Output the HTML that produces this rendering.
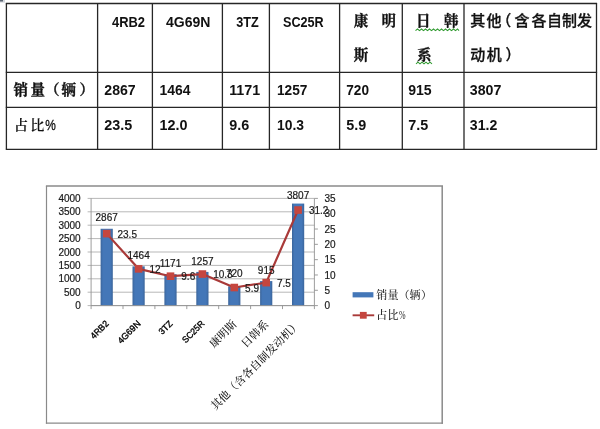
<!DOCTYPE html>
<html lang="zh-CN">
<head>
<meta charset="utf-8">
<title>销量与占比</title>
<style>
html,body{margin:0;padding:0;background:#fff;}
body{width:600px;height:429px;overflow:hidden;}
svg{display:block;}
.tb{font-family:"Liberation Sans","Noto Sans CJK SC",sans-serif;font-weight:bold;font-size:14px;fill:#111;}
.tc{font-family:"Liberation Serif","Noto Serif CJK SC",serif;font-weight:bold;font-size:14.5px;fill:#111;stroke:#111;stroke-width:0.25px;}
.ch{font-family:"Liberation Sans","Noto Sans CJK SC",sans-serif;font-size:10px;fill:#1a1a1a;stroke:#1a1a1a;stroke-width:0.2px;}
.xl{font-family:"Liberation Sans","Noto Sans CJK SC",sans-serif;font-size:9px;fill:#000;stroke:#000;stroke-width:0.35px;}
.tk{stroke-width:0.32px;}
.tl{font-weight:600;stroke-width:0.1px;font-size:14px;}
.ts{font-family:"Liberation Sans","Noto Sans CJK SC",sans-serif;font-weight:500;font-size:15px;fill:#111;stroke:#111;stroke-width:0.3px;}
.pc{font-family:"Liberation Sans",sans-serif;font-size:14.5px;fill:#111;stroke:#111;stroke-width:0.3px;}
.xc{font-family:"Liberation Serif","Noto Serif CJK SC",serif;font-size:11px;font-weight:500;fill:#111;}
.lg{font-family:"Liberation Serif","Noto Serif CJK SC",serif;font-size:11px;font-weight:500;fill:#1a1a1a;}
</style>
</head>
<body>
<svg width="600" height="429" viewBox="0 0 600 429">
<defs><linearGradient id="bg" x1="0" y1="0" x2="1" y2="0"><stop offset="0" stop-color="#3b659b"/><stop offset="0.2" stop-color="#4477b8"/><stop offset="0.8" stop-color="#4477b8"/><stop offset="1" stop-color="#3b659b"/></linearGradient></defs>
<rect x="0" y="0" width="600" height="429" fill="#fff"/>
<rect x="0" y="0" width="5" height="2.6" fill="#d4d7dc"/><rect x="0" y="0" width="3" height="1.5" fill="#5a6472"/>
<g stroke="#262626" stroke-width="1.3" fill="none">
<line x1="5.800000000000001" y1="3.5" x2="597.1" y2="3.5"/>
<line x1="5.800000000000001" y1="72.4" x2="597.1" y2="72.4"/>
<line x1="5.800000000000001" y1="107.4" x2="597.1" y2="107.4"/>
<line x1="5.800000000000001" y1="149.4" x2="597.1" y2="149.4"/>
<line x1="6.4" y1="3.5" x2="6.4" y2="149.4"/>
<line x1="97.6" y1="3.5" x2="97.6" y2="149.4"/>
<line x1="152.4" y1="3.5" x2="152.4" y2="149.4"/>
<line x1="222.4" y1="3.5" x2="222.4" y2="149.4"/>
<line x1="269.4" y1="3.5" x2="269.4" y2="149.4"/>
<line x1="339.6" y1="3.5" x2="339.6" y2="149.4"/>
<line x1="402.3" y1="3.5" x2="402.3" y2="149.4"/>
<line x1="464" y1="3.5" x2="464" y2="149.4"/>
<line x1="596.5" y1="3.5" x2="596.5" y2="149.4"/>
</g>
<text class="tb" x="112" y="27" textLength="33" lengthAdjust="spacingAndGlyphs">4RB2</text>
<text class="tb" x="166" y="27" textLength="44.5" lengthAdjust="spacingAndGlyphs">4G69N</text>
<text class="tb" x="236.2" y="27" textLength="22.5" lengthAdjust="spacingAndGlyphs">3TZ</text>
<text class="tb" x="283" y="27" textLength="40.7" lengthAdjust="spacingAndGlyphs">SC25R</text>
<text class="tc tk" x="353.8 381.5" y="26.2">康明</text>
<text class="tc tk" x="353.8" y="60.2">斯</text>
<text class="tc tk" x="416 444" y="26.2">日韩</text>
<text class="tc tk" x="417" y="60.2">系</text>
<text class="ts" x="470.3 486.5 496.3 514.5 531.5 547 562 577" y="26">其他（含各自制发</text>
<text class="ts" x="470.3 486.8 505.5" y="59.8">动机）</text>
<path d="M415.5 30.6 L417.5 29.0 L419.5 30.6 L421.5 29.0 L423.5 30.6 L425.5 29.0 L427.5 30.6 L429.5 29.0 L431.5 30.6 L433.5 29.0 L435.5 30.6 L437.5 29.0 L439.5 30.6 L441.5 29.0 L443.5 30.6 L445.5 29.0 L447.5 30.6 L449.5 29.0 L451.5 30.6 L453.5 29.0 L455.5 30.6 L457.5 29.0 L459 30.6" stroke="#2f9a2f" stroke-width="1.05" fill="none"/>
<path d="M416 63.8 L418 62.199999999999996 L420 63.8 L422 62.199999999999996 L424 63.8 L426 62.199999999999996 L428 63.8 L430 62.199999999999996 L432 63.8" stroke="#2f9a2f" stroke-width="1.05" fill="none"/>
<text class="tc tk" x="13.5 30.5 45 61.5 79.5" y="94.6">销量（辆）</text>
<text class="tc tl" x="14 30.3" y="129.8">占比</text>
<text class="pc" x="45.3" y="130.3" textLength="10.6" lengthAdjust="spacingAndGlyphs">%</text>
<text class="tb" x="104.3" y="95" textLength="31.4" lengthAdjust="spacingAndGlyphs">2867</text>
<text class="tb" x="159.6" y="95" textLength="31" lengthAdjust="spacingAndGlyphs">1464</text>
<text class="tb" x="229.2" y="95" textLength="31" lengthAdjust="spacingAndGlyphs">1171</text>
<text class="tb" x="277" y="95" textLength="30.5" lengthAdjust="spacingAndGlyphs">1257</text>
<text class="tb" x="346.3" y="95" textLength="22.7" lengthAdjust="spacingAndGlyphs">720</text>
<text class="tb" x="408.2" y="95" textLength="23.5" lengthAdjust="spacingAndGlyphs">915</text>
<text class="tb" x="469.8" y="95" textLength="31.6" lengthAdjust="spacingAndGlyphs">3807</text>
<text class="tb" x="104.3" y="130.3" textLength="28" lengthAdjust="spacingAndGlyphs">23.5</text>
<text class="tb" x="159.6" y="130.3" textLength="28" lengthAdjust="spacingAndGlyphs">12.0</text>
<text class="tb" x="229.2" y="130.3" textLength="20" lengthAdjust="spacingAndGlyphs">9.6</text>
<text class="tb" x="277" y="130.3" textLength="27" lengthAdjust="spacingAndGlyphs">10.3</text>
<text class="tb" x="346.3" y="130.3" textLength="20" lengthAdjust="spacingAndGlyphs">5.9</text>
<text class="tb" x="408.2" y="130.3" textLength="20" lengthAdjust="spacingAndGlyphs">7.5</text>
<text class="tb" x="469.8" y="130.3" textLength="27.5" lengthAdjust="spacingAndGlyphs">31.2</text>
<g stroke="#8a8a8a" fill="none"><line x1="45.9" y1="186" x2="443" y2="186" stroke-width="1.5"/><line x1="442.2" y1="186" x2="442.2" y2="423.7" stroke-width="1.5"/><line x1="46.5" y1="186" x2="46.5" y2="423.7" stroke-width="1.2"/><line x1="45.9" y1="423.1" x2="443" y2="423.1" stroke-width="1.2"/></g>
<g stroke="#9a9a9a" stroke-width="0.7">
<line x1="87.6" y1="198.40" x2="314.4" y2="198.40"/>
<line x1="87.6" y1="211.80" x2="314.4" y2="211.80"/>
<line x1="87.6" y1="225.20" x2="314.4" y2="225.20"/>
<line x1="87.6" y1="238.60" x2="314.4" y2="238.60"/>
<line x1="87.6" y1="252.00" x2="314.4" y2="252.00"/>
<line x1="87.6" y1="265.40" x2="314.4" y2="265.40"/>
<line x1="87.6" y1="278.80" x2="314.4" y2="278.80"/>
<line x1="87.6" y1="292.20" x2="314.4" y2="292.20"/>
<line x1="87.6" y1="305.60" x2="314.4" y2="305.60"/>
</g>
<rect x="100.60" y="228.76" width="12.2" height="76.84" fill="url(#bg)"/>
<rect x="132.50" y="266.36" width="12.2" height="39.24" fill="url(#bg)"/>
<rect x="164.40" y="274.22" width="12.2" height="31.38" fill="url(#bg)"/>
<rect x="196.30" y="271.91" width="12.2" height="33.69" fill="url(#bg)"/>
<rect x="228.20" y="286.30" width="12.2" height="19.30" fill="url(#bg)"/>
<rect x="260.10" y="281.08" width="12.2" height="24.52" fill="url(#bg)"/>
<rect x="292.00" y="203.57" width="12.2" height="102.03" fill="url(#bg)"/>
<g stroke="#929292" stroke-width="0.9" fill="none">
<line x1="91.1" y1="198.4" x2="91.1" y2="305.6"/>
<line x1="314.4" y1="198.4" x2="314.4" y2="305.6"/>
<line x1="91.1" y1="305.6" x2="314.4" y2="305.6"/>
<line x1="91.10" y1="305.6" x2="91.10" y2="309.1"/>
<line x1="123.00" y1="305.6" x2="123.00" y2="309.1"/>
<line x1="154.90" y1="305.6" x2="154.90" y2="309.1"/>
<line x1="186.80" y1="305.6" x2="186.80" y2="309.1"/>
<line x1="218.70" y1="305.6" x2="218.70" y2="309.1"/>
<line x1="250.60" y1="305.6" x2="250.60" y2="309.1"/>
<line x1="282.50" y1="305.6" x2="282.50" y2="309.1"/>
<line x1="314.40" y1="305.6" x2="314.40" y2="309.1"/>
<line x1="314.4" y1="198.40" x2="317.9" y2="198.40"/>
<line x1="314.4" y1="213.71" x2="317.9" y2="213.71"/>
<line x1="314.4" y1="229.03" x2="317.9" y2="229.03"/>
<line x1="314.4" y1="244.34" x2="317.9" y2="244.34"/>
<line x1="314.4" y1="259.66" x2="317.9" y2="259.66"/>
<line x1="314.4" y1="274.97" x2="317.9" y2="274.97"/>
<line x1="314.4" y1="290.29" x2="317.9" y2="290.29"/>
<line x1="314.4" y1="305.60" x2="317.9" y2="305.60"/>
</g>
<polyline points="106.70,233.62 138.60,268.85 170.50,276.20 202.40,274.05 234.30,287.53 266.20,282.63 298.10,210.04" fill="none" stroke="#a93a39" stroke-width="2.2" stroke-linejoin="round"/>
<rect x="102.90" y="229.82" width="7.6" height="7.6" fill="#c5463f"/>
<rect x="134.80" y="265.05" width="7.6" height="7.6" fill="#c5463f"/>
<rect x="166.70" y="272.40" width="7.6" height="7.6" fill="#c5463f"/>
<rect x="198.60" y="270.25" width="7.6" height="7.6" fill="#c5463f"/>
<rect x="230.50" y="283.73" width="7.6" height="7.6" fill="#c5463f"/>
<rect x="262.40" y="278.83" width="7.6" height="7.6" fill="#c5463f"/>
<rect x="294.30" y="206.24" width="7.6" height="7.6" fill="#c5463f"/>
<text class="ch" x="80.7" y="202.00" text-anchor="end">4000</text>
<text class="ch" x="80.7" y="215.40" text-anchor="end">3500</text>
<text class="ch" x="80.7" y="228.80" text-anchor="end">3000</text>
<text class="ch" x="80.7" y="242.20" text-anchor="end">2500</text>
<text class="ch" x="80.7" y="255.60" text-anchor="end">2000</text>
<text class="ch" x="80.7" y="269.00" text-anchor="end">1500</text>
<text class="ch" x="80.7" y="282.40" text-anchor="end">1000</text>
<text class="ch" x="80.7" y="295.80" text-anchor="end">500</text>
<text class="ch" x="80.7" y="309.20" text-anchor="end">0</text>
<text class="ch" x="324.5" y="202.00">35</text>
<text class="ch" x="324.5" y="217.31">30</text>
<text class="ch" x="324.5" y="232.63">25</text>
<text class="ch" x="324.5" y="247.94">20</text>
<text class="ch" x="324.5" y="263.26">15</text>
<text class="ch" x="324.5" y="278.57">10</text>
<text class="ch" x="324.5" y="293.89">5</text>
<text class="ch" x="324.5" y="309.20">0</text>
<text class="ch" x="106.70" y="221.10" text-anchor="middle">2867</text>
<text class="ch" x="138.60" y="259.10" text-anchor="middle">1464</text>
<text class="ch" x="170.50" y="266.90" text-anchor="middle">1171</text>
<text class="ch" x="202.40" y="264.80" text-anchor="middle">1257</text>
<text class="ch" x="234.30" y="277.40" text-anchor="middle">720</text>
<text class="ch" x="266.20" y="273.60" text-anchor="middle">915</text>
<text class="ch" x="298.10" y="198.60" text-anchor="middle">3807</text>
<text class="ch" x="117.50" y="237.72">23.5</text>
<text class="ch" x="149.40" y="272.95">12</text>
<text class="ch" x="181.30" y="280.30">9.6</text>
<text class="ch" x="213.20" y="278.15">10.3</text>
<text class="ch" x="245.10" y="291.63">5.9</text>
<text class="ch" x="277.00" y="286.73">7.5</text>
<text class="ch" x="308.90" y="214.14">31.2</text>
<text class="xl" text-anchor="end" textLength="21.5" lengthAdjust="spacingAndGlyphs" transform="translate(109.30 324.2) rotate(-45)">4RB2</text>
<text class="xl" text-anchor="end" textLength="28.3" lengthAdjust="spacingAndGlyphs" transform="translate(141.20 324.2) rotate(-45)">4G69N</text>
<text class="xl" text-anchor="end" textLength="15.3" lengthAdjust="spacingAndGlyphs" transform="translate(173.10 324.2) rotate(-45)">3TZ</text>
<text class="xl" text-anchor="end" textLength="27.3" lengthAdjust="spacingAndGlyphs" transform="translate(205.00 324.2) rotate(-45)">SC25R</text>
<text class="xc" text-anchor="end" transform="translate(237.30 325) rotate(-45)">康明斯</text>
<text class="xc" text-anchor="end" transform="translate(269.20 325) rotate(-45)">日韩系</text>
<text class="xc" text-anchor="end" transform="translate(301.10 325) rotate(-45)">其他（含各自制发动机）</text>
<rect x="352.6" y="292.2" width="20.8" height="5.2" fill="#4477b8"/>
<text class="lg" x="376.3 387.5 398.5 409.5 421" y="298.8">销量（辆）</text>
<line x1="352.6" y1="315.3" x2="374.2" y2="315.3" stroke="#a93a39" stroke-width="1.9"/>
<rect x="359.9" y="311.9" width="6.8" height="6.8" fill="#c5463f"/>
<text class="lg" x="376.3 387.5" y="319.2">占比<tspan x="399" font-size="12.5" textLength="6.6" lengthAdjust="spacingAndGlyphs">%</tspan></text>
</svg>
</body>
</html>
